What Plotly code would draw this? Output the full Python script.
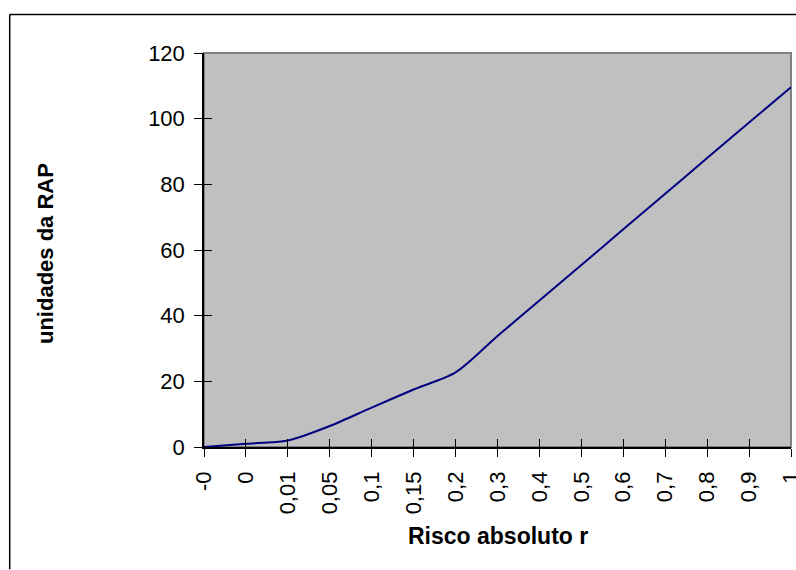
import plotly.graph_objects as go

# Absolute risk categories (x axis) and RAP units (y axis)
risco = ["-0", "0", "0,01", "0,05", "0,1", "0,15", "0,2", "0,3",
         "0,4", "0,5", "0,6", "0,7", "0,8", "0,9", "1"]
unidades_rap = [0, 1.0, 2.0, 6.4, 12.0, 17.5, 22.7, 33.8,
                44.6, 55.4, 66.3, 77.1, 88.0, 98.8, 109.6]
y_ticks = [0, 20, 40, 60, 80, 100, 120]

FONT = "Liberation Sans, Arial, sans-serif"

fig = go.Figure()

fig.add_trace(go.Scatter(
    x=risco, y=unidades_rap, mode="lines",
    line=dict(color="#000080", width=2, shape="spline", smoothing=0.8),
    hoverinfo="skip", showlegend=False, xaxis="x", yaxis="y",
))
# transparent copy carrying the inner half of the cross tick marks
fig.add_trace(go.Scatter(
    x=risco, y=unidades_rap, mode="lines",
    line=dict(color="rgba(0,0,0,0)", width=0),
    hoverinfo="skip", showlegend=False, xaxis="x2", yaxis="y2",
))

n = len(risco)
xcommon = dict(type="category", categoryorder="array", categoryarray=risco,
               range=[0, n - 1], showgrid=False, zeroline=False,
               automargin=False,
               tickcolor="black", tickwidth=1, ticklen=8)
ycommon = dict(range=[0, 120], tickmode="array", tickvals=y_ticks,
               showgrid=False, zeroline=False, automargin=False,
               tickcolor="black", tickwidth=1, ticklen=8)

fig.update_layout(
    width=796, height=570,
    margin=dict(l=204, r=5, t=53, b=123, autoexpand=False),
    paper_bgcolor="white", plot_bgcolor="#C0C0C0",
    font=dict(family=FONT, color="black", size=22),
    xaxis=dict(**xcommon, ticks="outside", tickangle=-90,
               showline=True, linecolor="black", linewidth=1.5,
               ticklabelstandoff=6,
               tickfont=dict(family=FONT, size=22, color="black")),
    yaxis=dict(**ycommon, ticks="outside",
               showline=True, linecolor="black", linewidth=1.5,
               ticklabelstandoff=5,
               tickfont=dict(family=FONT, size=22, color="black")),
    xaxis2=dict(**xcommon, ticks="inside", overlaying="x", matches="x",
                showticklabels=False, showline=False, anchor="y2"),
    yaxis2=dict(**ycommon, ticks="inside", overlaying="y", matches="y",
                showticklabels=False, showline=False, anchor="x2"),
    shapes=[
        # plot area border (grey top and right edges)
        dict(type="rect", xref="paper", yref="paper", x0=0, x1=1, y0=0, y1=1,
             line=dict(color="#808080", width=2), layer="below"),
        # outer chart frame: top and left edges
        dict(type="line", xref="paper", yref="paper",
             x0=-0.331, x1=1.01, y0=1.098, y1=1.098,
             line=dict(color="black", width=1.5)),
        dict(type="line", xref="paper", yref="paper",
             x0=-0.331, x1=-0.331, y0=-0.31, y1=1.098,
             line=dict(color="black", width=1.5)),
    ],
    annotations=[
        dict(text="<b>Risco absoluto r</b>", xref="paper", yref="paper",
             x=0.5, y=-0.226, xanchor="center", yanchor="middle",
             showarrow=False, font=dict(family=FONT, size=23, color="black")),
        dict(text="<b>unidades da RAP</b>", xref="paper", yref="paper",
             x=-0.269, y=0.49, xanchor="center", yanchor="middle",
             textangle=-90, showarrow=False,
             font=dict(family=FONT, size=22, color="black")),
    ],
)

fig.write_html("out.html")
